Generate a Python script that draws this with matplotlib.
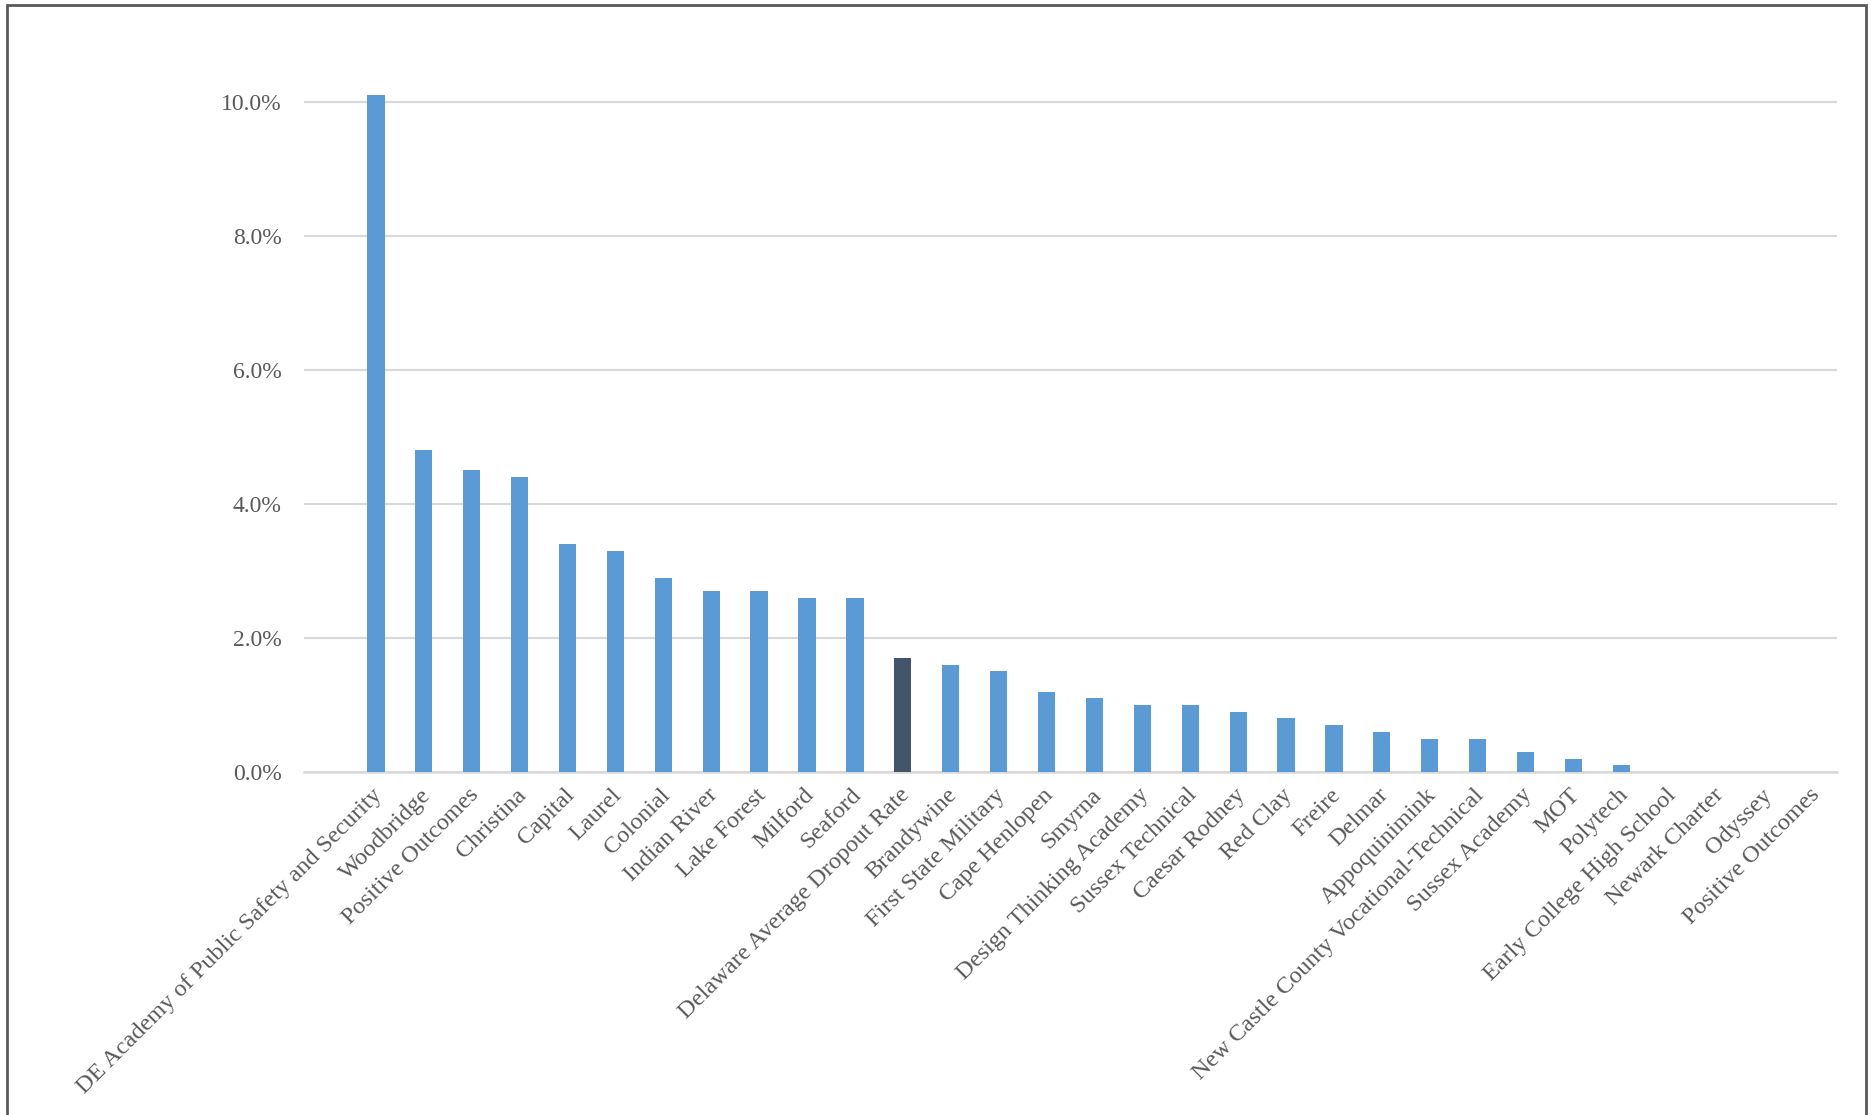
import matplotlib
matplotlib.use("Agg")
import matplotlib.pyplot as plt
import matplotlib.transforms as mtransforms
from matplotlib.patches import Rectangle
from matplotlib.ticker import FuncFormatter

# Dropout rate by district / charter (in %)
schools = [
    "DE Academy of Public Safety and Security",
    "Woodbridge",
    "Positive Outcomes",
    "Christina",
    "Capital",
    "Laurel",
    "Colonial",
    "Indian River",
    "Lake Forest",
    "Milford",
    "Seaford",
    "Delaware Average Dropout Rate",
    "Brandywine",
    "First State Military",
    "Cape Henlopen",
    "Smyrna",
    "Design Thinking Academy",
    "Sussex Technical",
    "Caesar Rodney",
    "Red Clay",
    "Freire",
    "Delmar",
    "Appoquinimink",
    "New Castle County Vocational-Technical",
    "Sussex Academy",
    "MOT",
    "Polytech",
    "Early College High School",
    "Newark Charter",
    "Odyssey",
    "Positive Outcomes",
]
rates = [10.1, 4.8, 4.5, 4.4, 3.4, 3.3, 2.9, 2.7, 2.7, 2.6, 2.6, 1.7, 1.6, 1.5,
         1.2, 1.1, 1.0, 1.0, 0.9, 0.8, 0.7, 0.6, 0.5, 0.5, 0.3, 0.2, 0.1,
         0.0, 0.0, 0.0, 0.0]
highlight = "Delaware Average Dropout Rate"

BLUE = "#5B9BD5"
DARK = "#44546A"
GRAY = "#595959"
GRID = "#D9D9D9"

plt.rcParams["font.family"] = ["Liberation Serif", "DejaVu Serif"]

fig = plt.figure(figsize=(18.71, 11.15), dpi=100)
ax = fig.add_axes([0.1625, 0.3076, 0.8193, 0.6313])

x = list(range(len(schools)))
colors = [DARK if s == highlight else BLUE for s in schools]
ax.bar(x, rates, width=0.36, color=colors, zorder=3)

ax.set_xlim(-1.5, len(schools) - 0.5)
ax.set_ylim(0, 10.5)
ax.set_yticks([0, 2, 4, 6, 8, 10])
ax.yaxis.set_major_formatter(FuncFormatter(lambda v, p: f"{v:.1f}%"))
ax.grid(axis="y", color=GRID, linewidth=1.5, zorder=0)
ax.set_axisbelow(True)

for side in ["top", "right", "left"]:
    ax.spines[side].set_visible(False)
ax.spines["bottom"].set_color(GRID)
ax.spines["bottom"].set_linewidth(1.8)

ax.tick_params(axis="y", length=0, pad=16, labelsize=17, labelcolor=GRAY)
ax.tick_params(axis="x", length=0, pad=9, labelsize=17.5, labelcolor=GRAY)
ax.set_xticks(x)
ax.set_xticklabels(schools, rotation=45, ha="right", rotation_mode="anchor")
shift = mtransforms.ScaledTranslation(-4 / 100, 0, fig.dpi_scale_trans)
for lbl in ax.get_xticklabels():
    lbl.set_transform(lbl.get_transform() + shift)

# chart border
fig.patches.append(Rectangle((7.5 / 1871, -0.02), (1866 - 7.5) / 1871, 1.02 - 5.5 / 1115,
                             transform=fig.transFigure, fill=False,
                             edgecolor=GRAY, linewidth=2))

fig.savefig("out.png", dpi=100)
